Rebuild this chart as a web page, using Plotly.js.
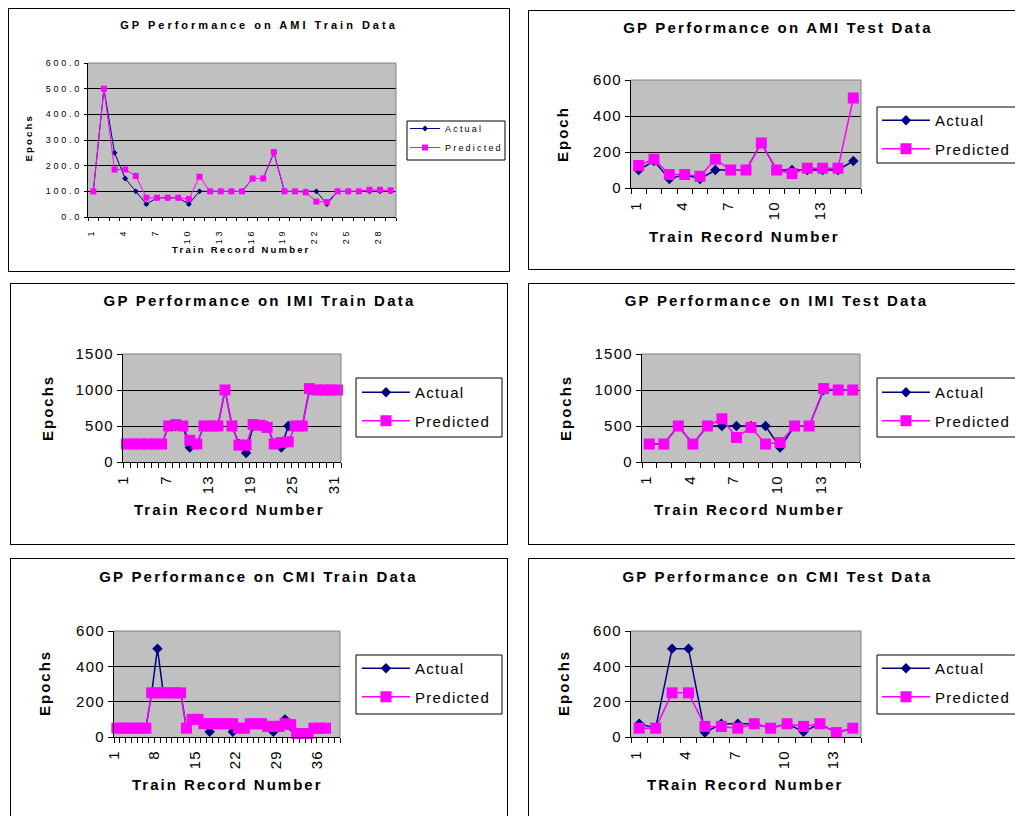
<!DOCTYPE html>
<html>
<head>
<meta charset="utf-8">
<script src="https://cdn.plot.ly/plotly-3.0.1.min.js"></script>
<style>
  html, body { margin: 0; padding: 0; background: #fff; width: 1015px; height: 816px; overflow: hidden; position: relative; }
  .frame { position: absolute; border: 1px solid #000; box-sizing: border-box; }
  .chart { position: absolute; }
  .big .gtitle { letter-spacing: 2.2px; }
  .big .annotation-text { letter-spacing: 2px; }
  .big .xtick text, .big .ytick text { letter-spacing: 1.3px; }
  .big .legendtext { letter-spacing: 1.3px; }
  .small .gtitle { letter-spacing: 3px; }
  .small .annotation-text { letter-spacing: 2.2px; }
  .small .xtick text, .small .ytick text { letter-spacing: 2.8px; }
  .small .legendtext { letter-spacing: 2.2px; }
  /* legend box is drawn as a shape, so the entries must not be clipped */
  .legend .scrollbox { clip-path: none !important; }
</style>
</head>
<body>
<script>
// ---- AMI data ----
const amiTrainActual    = [100, 500, 250, 150, 100, 50, 75, 75, 75, 50, 100, 100, 100, 100, 100, 150, 150, 250, 100, 100, 100, 100, 50, 100, 100, 100, 100, 100, 100];
const amiTrainPredicted = [100, 500, 185, 185, 160, 75, 75, 75, 75, 70, 157, 100, 100, 100, 100, 150, 150, 253, 100, 100, 96, 60, 58, 100, 100, 100, 106, 106, 104];
const amiTestActual     = [100, 150, 50, 75, 50, 100, 100, 100, 250, 100, 100, 100, 100, 100, 150];
const amiTestPredicted  = [125, 160, 75, 75, 65, 160, 100, 100, 250, 100, 80, 110, 110, 110, 500];

// ---- IMI data ----
const imiTrainActual    = [250, 250, 250, 250, 250, 250, 500, 500, 500, 200, 250, 500, 500, 500, 1000, 500, 250, 125, 500, 500, 500, 250, 200, 500, 500, 500, 1000, 1000, 1000, 1000, 1000];
const imiTrainPredicted = [250, 250, 250, 250, 250, 250, 500, 520, 500, 300, 250, 500, 500, 500, 1000, 500, 235, 235, 520, 510, 480, 250, 270, 280, 500, 500, 1020, 1000, 1000, 1000, 1000];
const imiTestActual     = [250, 250, 500, 250, 500, 500, 500, 500, 500, 200, 500, 500, 1000, 1000, 1000];
const imiTestPredicted  = [250, 250, 500, 250, 500, 600, 340, 480, 250, 270, 500, 500, 1020, 1000, 1000];

// ---- CMI data ----
const cmiTrainActual    = [50, 50, 50, 50, 50, 50, 250, 500, 250, 250, 250, 250, 50, 100, 100, 75, 30, 75, 75, 75, 30, 50, 50, 75, 75, 75, 60, 30, 60, 100, 60, 20, 20, 20, 50, 50, 50];
const cmiTrainPredicted = [50, 50, 50, 50, 50, 50, 250, 250, 250, 250, 250, 250, 50, 100, 100, 75, 75, 75, 75, 75, 75, 50, 50, 75, 75, 75, 60, 60, 60, 75, 70, 20, 20, 20, 50, 50, 50];
const cmiTestActual     = [75, 50, 500, 500, 25, 75, 75, 75, 50, 75, 30, 75, 25, 50];
const cmiTestPredicted  = [50, 50, 250, 250, 60, 60, 50, 75, 50, 75, 60, 75, 25, 50];

// ---- tick labels ----
const ticksAmiTrain = [1, 4, 7, 10, 13, 16, 19, 22, 25, 28];
const ticksAmiTest  = [1, 4, 7, 10, 13];
const ticksImiTrain = [1, 7, 13, 19, 25, 31];
const ticksImiTest  = [1, 4, 7, 10, 13];
const ticksCmiTrain = [1, 8, 15, 22, 29, 36];
const ticksCmiTest  = [1, 4, 7, 10, 13];

const FONT = 'Arial, "Liberation Sans", Helvetica, sans-serif';
const NAVY = '#000080';
const MAGENTA = '#FF00FF';

// page geometry of each chart: frame box, plot area, text anchors, legend box (page pixels)
const panels = [
  { title: 'GP Performance on AMI Train Data', xTitle: 'Train Record Number', yTitle: 'Epochs',
    actual: amiTrainActual, predicted: amiTrainPredicted, ticks: ticksAmiTrain, nCats: 29,
    yMax: 600, yStep: 100, yFormat: '.1f', style: 'small',
    frame: [8, 8, 502, 264], plot: [88, 396, 63, 217],
    titleAt: [259, 25], xTitleAt: [241, 249], yTitleAt: [28, 138],
    legendBox: [407, 121, 505, 160], legendAt: [405, 114] },
  { title: 'GP Performance on AMI Test Data', xTitle: 'Train Record Number', yTitle: 'Epoch',
    actual: amiTestActual, predicted: amiTestPredicted, ticks: ticksAmiTest, nCats: 15,
    yMax: 600, yStep: 200, yFormat: 'd', style: 'big',
    frame: [528, 10, 500, 260], plot: [631, 861, 80, 188],
    titleAt: [778, 28], xTitleAt: [744, 236], yTitleAt: [562, 134],
    legendBox: [877, 107, 1030, 163], legendAt: [877, 104] },
  { title: 'GP Performance on IMI Train Data', xTitle: 'Train Record Number', yTitle: 'Epochs',
    actual: imiTrainActual, predicted: imiTrainPredicted, ticks: ticksImiTrain, nCats: 31,
    yMax: 1500, yStep: 500, yFormat: 'd', style: 'big',
    frame: [10, 283, 498, 262], plot: [123, 341, 354, 462],
    titleAt: [259.5, 301], xTitleAt: [229.5, 509], yTitleAt: [47, 408],
    legendBox: [356, 378, 502, 437], legendAt: [357, 376] },
  { title: 'GP Performance on IMI Test Data', xTitle: 'Train Record Number', yTitle: 'Epochs',
    actual: imiTestActual, predicted: imiTestPredicted, ticks: ticksImiTest, nCats: 15,
    yMax: 1500, yStep: 500, yFormat: 'd', style: 'big',
    frame: [528, 283, 500, 262], plot: [642, 860, 354, 462],
    titleAt: [776.5, 301], xTitleAt: [749, 509], yTitleAt: [565, 408],
    legendBox: [877, 378, 1030, 437], legendAt: [877, 376] },
  { title: 'GP Performance on CMI Train Data', xTitle: 'Train Record Number', yTitle: 'Epochs',
    actual: cmiTrainActual, predicted: cmiTrainPredicted, ticks: ticksCmiTrain, nCats: 39,
    yMax: 600, yStep: 200, yFormat: 'd', style: 'big',
    frame: [10, 558, 498, 262], plot: [114, 340, 631, 737],
    titleAt: [258.5, 577], xTitleAt: [227.5, 784], yTitleAt: [44, 683],
    legendBox: [356, 655, 502, 714], legendAt: [357, 652] },
  { title: 'GP Performance on CMI Test Data', xTitle: 'TRain Record Number', yTitle: 'Epochs',
    actual: cmiTestActual, predicted: cmiTestPredicted, ticks: ticksCmiTest, nCats: 14,
    yMax: 600, yStep: 200, yFormat: 'd', style: 'big',
    frame: [528, 558, 500, 262], plot: [631, 861, 631, 737],
    titleAt: [777.5, 577], xTitleAt: [745, 784], yTitleAt: [563, 683],
    legendBox: [877, 655, 1030, 714], legendAt: [877, 652] }
];

const sizes = {
  small: { title: 11, tick: 9, axisTitle: 9.5, legend: 9, sq: 6, dia: 4.5, line: 1, gap: 0, itemwidth: 30,
           ticklen: 3, labelGap: 7, labelShift: -2 },
  big:   { title: 15, tick: 15, axisTitle: 15, legend: 15, sq: 11, dia: 8, line: 1.5, gap: 6, itemwidth: 48,
           ticklen: 5, labelGap: 6, labelShift: -3 }
};

panels.forEach(function (p, i) {
  const s = sizes[p.style];
  const [fl, ft, fw, fh] = p.frame;
  const [px0, px1, py0, py1] = p.plot;

  const frame = document.createElement('div');
  frame.className = 'frame';
  Object.assign(frame.style, { left: fl + 'px', top: ft + 'px', width: fw + 'px', height: fh + 'px' });
  document.body.appendChild(frame);

  const div = document.createElement('div');
  div.className = 'chart ' + p.style;
  div.id = 'chart' + (i + 1);
  Object.assign(div.style, { left: fl + 'px', top: ft + 'px', width: fw + 'px', height: fh + 'px' });
  document.body.appendChild(div);

  const l = px0 - fl, t = py0 - ft, w = px1 - px0, h = py1 - py0;
  const r = fw - l - w, b = fh - t - h;
  // page pixel -> paper fraction of this chart
  const paperX = function (x) { return (x - px0) / w; };
  const paperY = function (y) { return (py1 - y) / h; };

  const records = p.actual.map(function (_, k) { return k + 1; });

  const traces = [
    { x: records, y: p.actual, name: 'Actual', type: 'scatter', mode: 'lines+markers',
      legendgroup: 'a', cliponaxis: false,
      line: { color: NAVY, width: s.line },
      marker: { symbol: 'diamond', size: s.dia, color: NAVY } },
    { x: records, y: p.predicted, name: 'Predicted', type: 'scatter', mode: 'lines+markers',
      legendgroup: 'p', cliponaxis: false,
      line: { color: MAGENTA, width: s.line },
      marker: { symbol: 'square', size: s.sq, color: MAGENTA } }
  ];

  const lb = p.legendBox;

  const layout = {
    width: fw, height: fh,
    margin: { l: l, r: r, t: t, b: b, pad: 0 },
    paper_bgcolor: 'rgba(0,0,0,0)',
    plot_bgcolor: '#C0C0C0',
    font: { family: FONT, color: '#000', size: s.tick },
    showlegend: true,
    title: {
      text: p.title, xref: 'container', yref: 'container',
      x: (p.titleAt[0] - fl) / fw, y: 1 - (p.titleAt[1] - ft) / fh,
      xanchor: 'center', yanchor: 'middle',
      font: { family: FONT, size: s.title, weight: 'bold', color: '#000' }
    },
    xaxis: {
      type: 'linear', range: [0.5, p.nCats + 0.5], fixedrange: true,
      tickmode: 'array', tickvals: p.ticks, ticktext: p.ticks.map(String),
      tickangle: -90, ticks: '', ticklabelstandoff: s.labelGap, ticklabelshift: s.labelShift,
      showline: true, linecolor: '#000', linewidth: 1,
      showgrid: false, zeroline: false,
      tickfont: { family: FONT, size: s.tick, color: '#000' },
      minor: { tickmode: 'linear', tick0: 0.5, dtick: 1, ticks: 'outside',
               ticklen: s.ticklen, tickcolor: '#000', tickwidth: 1, showgrid: false }
    },
    yaxis: {
      range: [0, p.yMax], dtick: p.yStep, tick0: 0, fixedrange: true,
      tickformat: p.yFormat,
      ticks: 'outside', ticklen: s.ticklen, tickcolor: '#000', tickwidth: 1,
      showline: true, linecolor: '#000', linewidth: 1,
      showgrid: true, gridcolor: '#000', gridwidth: 1, zeroline: false,
      tickfont: { family: FONT, size: s.tick, color: '#000' }
    },
    legend: {
      x: paperX(p.legendAt[0]), y: paperY(p.legendAt[1]),
      xanchor: 'left', yanchor: 'top',
      bgcolor: 'rgba(0,0,0,0)', borderwidth: 0,
      font: { family: FONT, size: s.legend, color: '#000' },
      tracegroupgap: s.gap, itemwidth: s.itemwidth, traceorder: 'grouped'
    },
    annotations: [
      { text: p.xTitle, xref: 'paper', yref: 'paper',
        x: paperX(p.xTitleAt[0]), y: paperY(p.xTitleAt[1]),
        xanchor: 'center', yanchor: 'middle', showarrow: false,
        font: { family: FONT, size: s.axisTitle, weight: 'bold', color: '#000' } },
      { text: p.yTitle, xref: 'paper', yref: 'paper',
        x: paperX(p.yTitleAt[0]), y: paperY(p.yTitleAt[1]),
        xanchor: 'center', yanchor: 'middle', textangle: -90, showarrow: false,
        font: { family: FONT, size: s.axisTitle, weight: 'bold', color: '#000' } }
    ],
    shapes: [
      // grey plot-area edge on top and right
      { type: 'line', xref: 'paper', yref: 'paper', x0: 0, x1: 1, y0: 1, y1: 1,
        line: { color: '#808080', width: 1 }, layer: 'above' },
      { type: 'line', xref: 'paper', yref: 'paper', x0: 1, x1: 1, y0: 0, y1: 1,
        line: { color: '#808080', width: 1 }, layer: 'above' },
      // legend box
      { type: 'rect', xref: 'paper', yref: 'paper',
        x0: paperX(lb[0]), x1: paperX(lb[2]), y0: paperY(lb[3]), y1: paperY(lb[1]),
        fillcolor: '#FFFFFF', line: { color: '#000', width: 1 }, layer: 'above' }
    ]
  };

  Plotly.newPlot(div, traces, layout, { staticPlot: true, displayModeBar: false });
});
</script>
</body>
</html>
